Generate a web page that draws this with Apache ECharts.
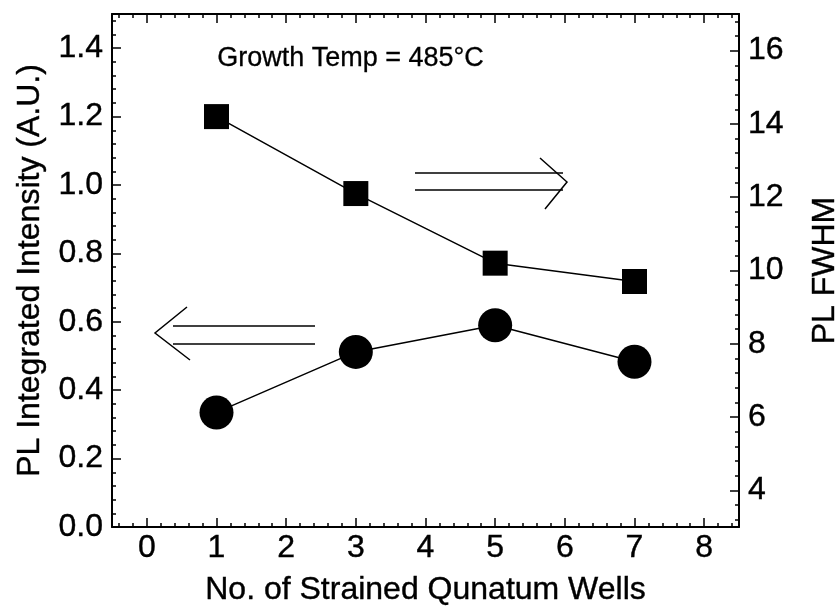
<!DOCTYPE html>
<html>
<head>
<meta charset="utf-8">
<script src="https://cdn.jsdelivr.net/npm/echarts@6/dist/echarts.min.js"></script>
<style>
  html, body { margin: 0; padding: 0; background: #fff; }
  #chart { width: 838px; height: 607px; }
</style>
</head>
<body>
<div id="chart"></div>
<script>
// Number of strained quantum wells in each sample
const wells = [1, 3, 5, 7];
// PL integrated intensity (A.U.), left axis
const intensity = [0.335, 0.512, 0.590, 0.483];
// PL FWHM, right axis
const fwhm = [14.2, 12.1, 10.2, 9.7];

// Tick labels
const xTicks = [0, 1, 2, 3, 4, 5, 6, 7, 8];
const leftTicks = [0.0, 0.2, 0.4, 0.6, 0.8, 1.0, 1.2, 1.4];
const rightTicks = [4, 6, 8, 10, 12, 14, 16];

const FONT = '"Liberation Sans", Arial, Helvetica, sans-serif';

function steps(from, to, step) {
  const out = [];
  for (let v = from; v <= to + 1e-9; v += step) out.push(+v.toFixed(4));
  return out;
}
const xMinor = steps(-0.4, 8.4, 0.2);
const leftMinor = steps(0.04, 1.48, 0.04);
const rightMinor = steps(3.2, 16.8, 0.4);

const chart = echarts.init(document.getElementById('chart'), null, { renderer: 'canvas' });

const lineBlack = { color: '#000', width: 2 };
const tickStyle = { color: '#000', width: 1.5 };
const textBase = { fontFamily: FONT, fontSize: 32, color: '#000', textBorderColor: '#000', textBorderWidth: 0.4 };

const xBase = { type: 'value', min: -0.5, max: 8.5, splitLine: { show: false } };
const yLeftBase = { type: 'value', position: 'left', min: 0, max: 1.5, splitLine: { show: false } };
const yRightBase = { type: 'value', position: 'right', min: 3, max: 17, splitLine: { show: false } };

chart.setOption({
  animation: false,
  backgroundColor: '#fff',
  grid: { left: 112, right: 99, top: 14, bottom: 80, outerBoundsMode: 'none', containLabel: false },
  xAxis: [
    Object.assign({}, xBase, {
      position: 'bottom',
      name: 'No. of Strained Qunatum Wells',
      nameLocation: 'middle',
      nameGap: 47,
      nameTextStyle: textBase,
      axisLine: { onZero: false, lineStyle: lineBlack },
      axisTick: { inside: true, length: 9, lineStyle: tickStyle, customValues: xTicks },
      axisLabel: Object.assign({ customValues: xTicks, margin: 5 }, textBase)
    }),
    Object.assign({}, xBase, {
      position: 'bottom',
      axisLine: { onZero: false, show: false },
      axisTick: { inside: true, length: 4, lineStyle: tickStyle, customValues: xMinor },
      axisLabel: { show: false }
    }),
    Object.assign({}, xBase, {
      position: 'top',
      axisLine: { onZero: false, lineStyle: lineBlack },
      axisTick: { inside: true, length: 9, lineStyle: tickStyle, customValues: xTicks },
      axisLabel: { show: false }
    }),
    Object.assign({}, xBase, {
      position: 'top',
      axisLine: { onZero: false, show: false },
      axisTick: { inside: true, length: 4, lineStyle: tickStyle, customValues: xMinor },
      axisLabel: { show: false }
    })
  ],
  yAxis: [
    Object.assign({}, yLeftBase, {
      name: 'PL Integrated Intensity (A.U.)',
      nameLocation: 'middle',
      nameGap: 66,
      nameTextStyle: textBase,
      axisLine: { show: true, onZero: false, lineStyle: lineBlack },
      axisTick: { inside: true, length: 9, lineStyle: tickStyle, customValues: leftTicks },
      axisLabel: Object.assign({ customValues: leftTicks, margin: 9, formatter: v => v.toFixed(1) }, textBase)
    }),
    Object.assign({}, yRightBase, {
      name: 'PL FWHM',
      nameLocation: 'middle',
      nameGap: 70,
      nameRotate: 90,
      nameTextStyle: textBase,
      axisLine: { show: true, onZero: false, lineStyle: lineBlack },
      axisTick: { inside: true, length: 9, lineStyle: tickStyle, customValues: rightTicks },
      axisLabel: Object.assign({ customValues: rightTicks, margin: 9 }, textBase)
    }),
    Object.assign({}, yLeftBase, {
      axisLine: { show: false, onZero: false },
      axisTick: { inside: true, length: 4, lineStyle: tickStyle, customValues: leftMinor },
      axisLabel: { show: false }
    }),
    Object.assign({}, yRightBase, {
      axisLine: { show: false, onZero: false },
      axisTick: { inside: true, length: 4, lineStyle: tickStyle, customValues: rightMinor },
      axisLabel: { show: false }
    })
  ],
  series: [
    {
      name: 'PL FWHM',
      type: 'line',
      xAxisIndex: 0,
      yAxisIndex: 1,
      data: wells.map((w, i) => [w, fwhm[i]]),
      symbol: 'rect',
      symbolSize: 25,
      itemStyle: { color: '#000' },
      lineStyle: { color: '#000', width: 1.5 },
      z: 3
    },
    {
      name: 'PL Integrated Intensity',
      type: 'line',
      xAxisIndex: 0,
      yAxisIndex: 0,
      data: wells.map((w, i) => [w, intensity[i]]),
      symbol: 'circle',
      symbolSize: 34,
      itemStyle: { color: '#000' },
      lineStyle: { color: '#000', width: 1.5 },
      z: 3
    }
  ],
  graphic: [
    {
      type: 'text', left: 217, top: 45,
      style: { text: 'Growth Temp = 485°C', font: '27px ' + FONT, fill: '#000', stroke: '#000', lineWidth: 0.3 }
    },
    // double arrow pointing to the right-hand axis
    { type: 'line', shape: { x1: 415, y1: 173, x2: 563, y2: 173 }, style: { stroke: '#000', lineWidth: 1.5 } },
    { type: 'line', shape: { x1: 415, y1: 190, x2: 563, y2: 190 }, style: { stroke: '#000', lineWidth: 1.5 } },
    { type: 'polyline', shape: { points: [[540, 158], [567, 182], [545, 209]] }, style: { stroke: '#000', lineWidth: 1.5, fill: null } },
    // double arrow pointing to the left-hand axis
    { type: 'line', shape: { x1: 173, y1: 326, x2: 315, y2: 326 }, style: { stroke: '#000', lineWidth: 1.5 } },
    { type: 'line', shape: { x1: 173, y1: 344, x2: 315, y2: 344 }, style: { stroke: '#000', lineWidth: 1.5 } },
    { type: 'polyline', shape: { points: [[187, 307], [155, 333], [190, 360]] }, style: { stroke: '#000', lineWidth: 1.5, fill: null } }
  ]
});
</script>
</body>
</html>
